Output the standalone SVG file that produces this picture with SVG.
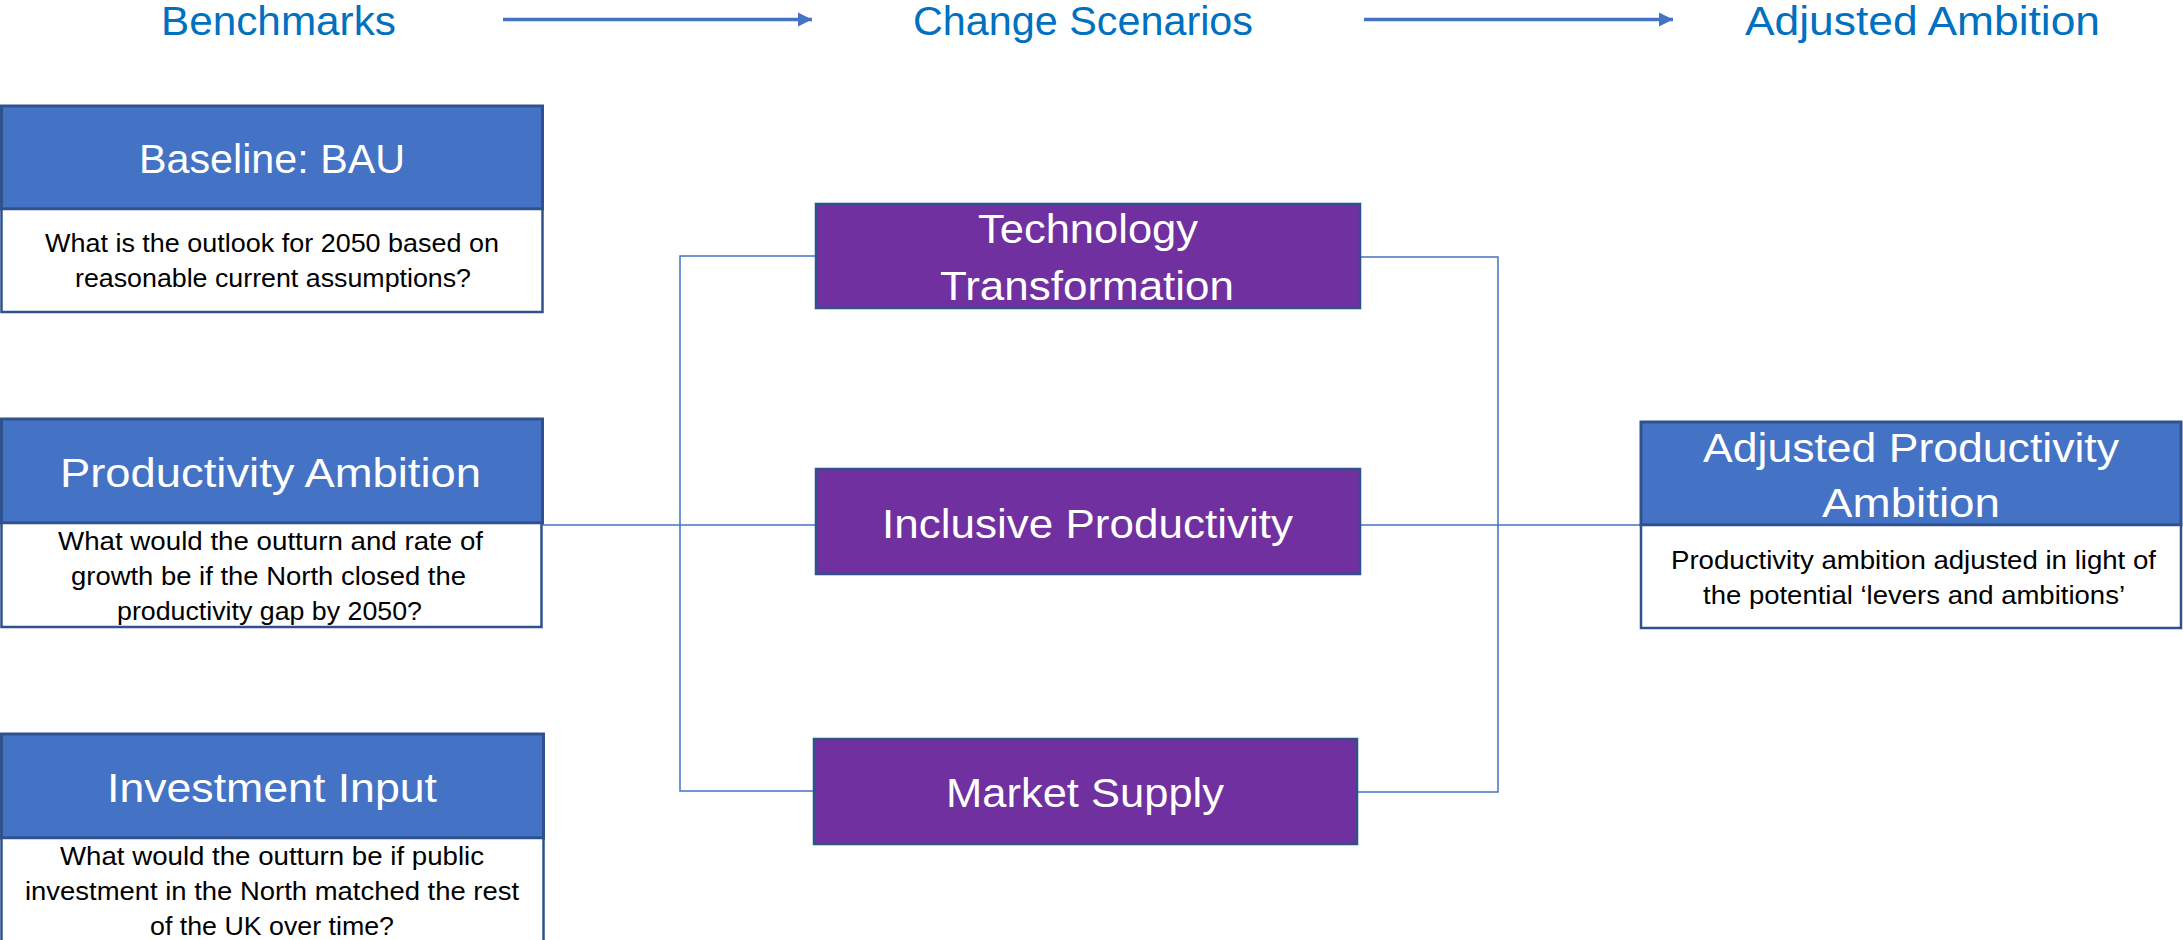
<svg xmlns="http://www.w3.org/2000/svg" width="2183" height="940" viewBox="0 0 2183 940">
<defs>
<marker id="ah" markerUnits="userSpaceOnUse" markerWidth="16" markerHeight="16" refX="14" refY="8" orient="auto">
<path d="M0,1 L14,8 L0,15 Z" fill="#4472C4"/>
</marker>
<style>
text{lengthAdjust:spacingAndGlyphs}
.title{font-family:"Liberation Sans",Arial,sans-serif;font-size:41px;fill:#0070C0}
.hdr{fill:#4472C4;stroke:#2F528F;stroke-width:3}
.body{fill:#ffffff;stroke:#2F528F;stroke-width:2.5}
.scn{fill:#7030A0;stroke:#2F528F;stroke-width:2.5}
.ht{font-family:"Liberation Sans",Arial,sans-serif;font-size:41px;fill:#ffffff}
.bt{font-family:"Liberation Sans",Arial,sans-serif;font-size:26.5px;fill:#000000}
.conn{fill:none;stroke:#4472C4;stroke-width:1.5}
.arr{stroke:#4472C4;stroke-width:3.5;fill:none}
</style>
</defs>
<rect width="2183" height="940" fill="#ffffff"/>
<g id="titles">
<text class="title" x="161" y="35" textLength="235" lengthAdjust="spacingAndGlyphs">Benchmarks</text>
<text class="title" x="913" y="35" textLength="340" lengthAdjust="spacingAndGlyphs">Change Scenarios</text>
<text class="title" x="1745" y="35" textLength="355" lengthAdjust="spacingAndGlyphs">Adjusted Ambition</text>
</g>
<g id="stage-arrows">
<line class="arr" x1="503" y1="19.5" x2="812" y2="19.5" marker-end="url(#ah)"/>
<line class="arr" x1="1364" y1="19.5" x2="1673" y2="19.5" marker-end="url(#ah)"/>
</g>
<g id="connectors">
<path class="conn" d="M543,525 H816"/>
<path class="conn" d="M816,256 H680 V791 H814"/>
<path class="conn" d="M1360,257 H1498 V792 H1357"/>
<path class="conn" d="M1360,525 H1641"/>
</g>
<g id="baseline">
<rect class="hdr" x="1.5" y="106" width="541" height="103"/>
<rect class="body" x="1.5" y="209" width="541" height="103"/>
<text class="ht" x="139" y="173" textLength="266" lengthAdjust="spacingAndGlyphs">Baseline: BAU</text>
<text class="bt" x="45" y="252" textLength="454" lengthAdjust="spacingAndGlyphs">What is the outlook for 2050 based on</text>
<text class="bt" x="75" y="287" textLength="396" lengthAdjust="spacingAndGlyphs">reasonable current assumptions?</text>
</g>
<g id="productivity">
<rect class="hdr" x="1.5" y="419" width="541" height="104"/>
<rect class="body" x="1.5" y="523" width="540" height="104"/>
<text class="ht" x="60" y="487" textLength="421" lengthAdjust="spacingAndGlyphs">Productivity Ambition</text>
<text class="bt" x="58" y="550" textLength="425" lengthAdjust="spacingAndGlyphs">What would the outturn and rate of</text>
<text class="bt" x="71" y="585" textLength="395" lengthAdjust="spacingAndGlyphs">growth be if the North closed the</text>
<text class="bt" x="117" y="620" textLength="305" lengthAdjust="spacingAndGlyphs">productivity gap by 2050?</text>
</g>
<g id="investment">
<rect class="hdr" x="1.5" y="734" width="542" height="104"/>
<rect class="body" x="1.5" y="838" width="542" height="106"/>
<text class="ht" x="107" y="802" textLength="330" lengthAdjust="spacingAndGlyphs">Investment Input</text>
<text class="bt" x="60" y="865" textLength="424" lengthAdjust="spacingAndGlyphs">What would the outturn be if public</text>
<text class="bt" x="25" y="900" textLength="494" lengthAdjust="spacingAndGlyphs">investment in the North matched the rest</text>
<text class="bt" x="150" y="935" textLength="244" lengthAdjust="spacingAndGlyphs">of the UK over time?</text>
</g>
<g id="technology">
<rect class="scn" x="816" y="204" width="544" height="104"/>
<text class="ht" x="978" y="243" textLength="220" lengthAdjust="spacingAndGlyphs">Technology</text>
<text class="ht" x="940" y="300" textLength="294" lengthAdjust="spacingAndGlyphs">Transformation</text>
</g>
<g id="inclusive">
<rect class="scn" x="816" y="469" width="544" height="105"/>
<text class="ht" x="882" y="538" textLength="411" lengthAdjust="spacingAndGlyphs">Inclusive Productivity</text>
</g>
<g id="market">
<rect class="scn" x="814" y="739" width="543" height="105"/>
<text class="ht" x="946" y="807" textLength="278" lengthAdjust="spacingAndGlyphs">Market Supply</text>
</g>
<g id="adjusted">
<rect class="hdr" x="1641" y="422" width="540" height="103"/>
<rect class="body" x="1641" y="525" width="540" height="103"/>
<text class="ht" x="1703" y="462" textLength="416" lengthAdjust="spacingAndGlyphs">Adjusted Productivity</text>
<text class="ht" x="1822" y="517" textLength="178" lengthAdjust="spacingAndGlyphs">Ambition</text>
<text class="bt" x="1671" y="569" textLength="485" lengthAdjust="spacingAndGlyphs">Productivity ambition adjusted in light of</text>
<text class="bt" x="1703" y="604" textLength="422" lengthAdjust="spacingAndGlyphs">the potential ‘levers and ambitions’</text>
</g>
</svg>
